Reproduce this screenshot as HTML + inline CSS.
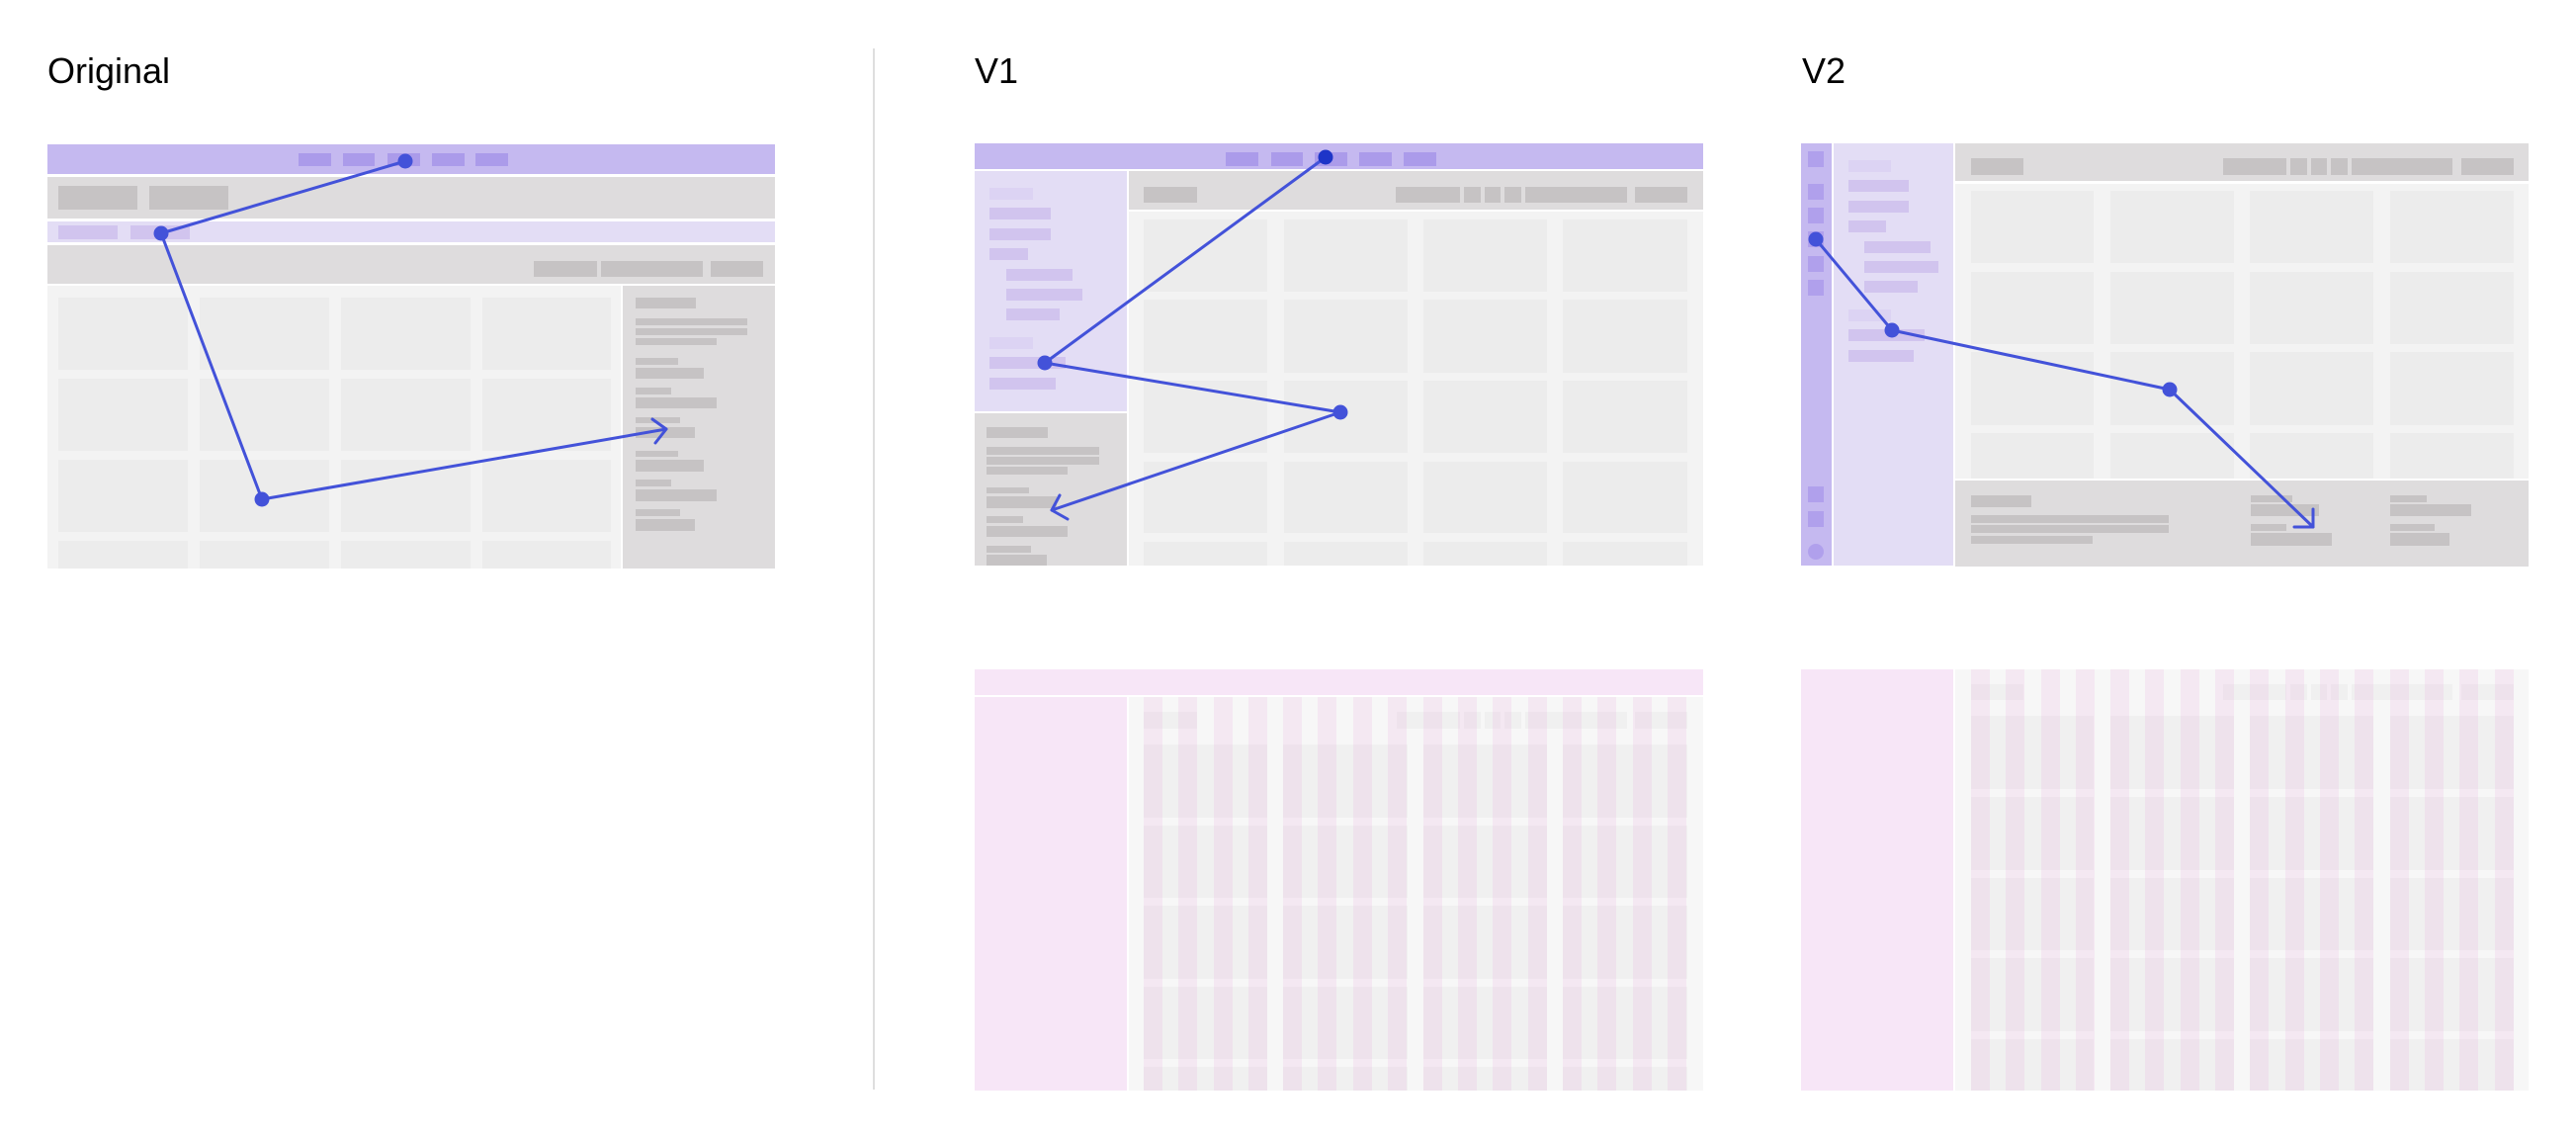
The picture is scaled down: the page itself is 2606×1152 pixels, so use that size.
<!DOCTYPE html>
<html><head><meta charset="utf-8"><style>
html,body{margin:0;padding:0;background:#fff;}
svg{display:block;}
text{font-family:"Liberation Sans",sans-serif;font-size:36px;fill:#000;}
</style></head><body>
<svg width="2606" height="1152" viewBox="0 0 2606 1152" xmlns="http://www.w3.org/2000/svg">
<rect width="2606" height="1152" fill="#fff"/>
<text x="48" y="84">Original</text>
<text x="986" y="84">V1</text>
<text x="1823" y="84">V2</text>
<rect x="883" y="49" width="2" height="1053" fill="#dedede"/>

<!-- ORIGINAL -->
<rect x="48" y="146" width="736" height="30" fill="#c5b9f0"/>
<g fill="#ab9bea"><rect x="302" y="155" width="33" height="13"/><rect x="347" y="155" width="32" height="13"/><rect x="392" y="155" width="33" height="13"/><rect x="437" y="155" width="33" height="13"/><rect x="481" y="155" width="33" height="13"/></g>
<rect x="48" y="179" width="736" height="42" fill="#dedcdd"/>
<g fill="#c6c3c4"><rect x="59" y="188" width="80" height="24"/><rect x="151" y="188" width="80" height="24"/></g>
<rect x="48" y="224" width="736" height="21" fill="#e3ddf5"/>
<g fill="#d1c4ee"><rect x="59" y="228" width="60" height="14"/><rect x="132" y="228" width="60" height="14"/></g>
<rect x="48" y="248" width="736" height="39" fill="#dedcdd"/>
<g fill="#c6c3c4"><rect x="540" y="264" width="64" height="16"/><rect x="608" y="264" width="103" height="16"/><rect x="719" y="264" width="53" height="16"/></g>
<rect x="48" y="289" width="580" height="286" fill="#f3f3f3"/>
<g fill="#ececec">
<rect x="59" y="301" width="131" height="73"/><rect x="202" y="301" width="131" height="73"/><rect x="345" y="301" width="131" height="73"/><rect x="488" y="301" width="130" height="73"/>
<rect x="59" y="383" width="131" height="73"/><rect x="202" y="383" width="131" height="73"/><rect x="345" y="383" width="131" height="73"/><rect x="488" y="383" width="130" height="73"/>
<rect x="59" y="465" width="131" height="73"/><rect x="202" y="465" width="131" height="73"/><rect x="345" y="465" width="131" height="73"/><rect x="488" y="465" width="130" height="73"/>
<rect x="59" y="547" width="131" height="28"/><rect x="202" y="547" width="131" height="28"/><rect x="345" y="547" width="131" height="28"/><rect x="488" y="547" width="130" height="28"/>
</g>
<rect x="630" y="289" width="154" height="286" fill="#dedcdd"/>
<g fill="#c6c3c4">
<rect x="643" y="301" width="61" height="11"/><rect x="643" y="322" width="113" height="7"/><rect x="643" y="332" width="113" height="7"/><rect x="643" y="342" width="82" height="7"/>
<rect x="643" y="362" width="43" height="7"/><rect x="643" y="372" width="69" height="11"/>
<rect x="643" y="392" width="36" height="7"/><rect x="643" y="402" width="82" height="11"/>
<rect x="643" y="422" width="45" height="6"/><rect x="643" y="432" width="60" height="11"/>
<rect x="643" y="456" width="43" height="6"/><rect x="643" y="465" width="69" height="12"/>
<rect x="643" y="485" width="36" height="7"/><rect x="643" y="495" width="82" height="12"/>
<rect x="643" y="515" width="45" height="7"/><rect x="643" y="525" width="60" height="12"/>
</g>
<g stroke="#4352d9" stroke-width="3" fill="none" stroke-linecap="round" stroke-linejoin="round">
<polyline points="410,163 163,236 265,505 674,434"/>
<polyline points="660,424 674,434 663,448"/>
</g>
<g fill="#4352d9"><circle cx="410" cy="163" r="7.5"/><circle cx="163" cy="236" r="7.5"/><circle cx="265" cy="505" r="7.5"/></g>

<!-- V1 TOP -->
<rect x="986" y="145" width="737" height="26" fill="#c5b9f0"/>
<g fill="#ab9bea"><rect x="1240" y="154" width="33" height="14"/><rect x="1286" y="154" width="32" height="14"/><rect x="1330" y="154" width="33" height="14"/><rect x="1375" y="154" width="33" height="14"/><rect x="1420" y="154" width="33" height="14"/></g>
<rect x="986" y="173" width="154" height="243" fill="#e3ddf5"/>
<g fill="#dcd3f3"><rect x="1001" y="190" width="44" height="12"/><rect x="1001" y="341" width="44" height="12"/></g>
<g fill="#d1c4ee"><rect x="1001" y="210" width="62" height="12"/><rect x="1001" y="231" width="62" height="12"/><rect x="1001" y="251" width="39" height="12"/><rect x="1018" y="272" width="67" height="12"/><rect x="1018" y="292" width="77" height="12"/><rect x="1018" y="312" width="54" height="12"/><rect x="1001" y="361" width="77" height="12"/><rect x="1001" y="382" width="67" height="12"/></g>
<rect x="986" y="418" width="154" height="154" fill="#dedcdd"/>
<g fill="#c6c3c4"><rect x="998" y="432" width="62" height="11"/><rect x="998" y="452" width="114" height="8"/><rect x="998" y="462" width="114" height="8"/><rect x="998" y="472" width="82" height="8"/><rect x="998" y="493" width="43" height="6"/><rect x="998" y="502" width="71" height="12"/><rect x="998" y="522" width="37" height="7"/><rect x="998" y="532" width="82" height="11"/><rect x="998" y="552" width="45" height="7"/><rect x="998" y="561" width="61" height="11"/></g>
<rect x="1142" y="173" width="581" height="39" fill="#dedcdd"/>
<g fill="#c6c3c4"><rect x="1157" y="189" width="54" height="16"/><rect x="1412" y="189" width="65" height="16"/><rect x="1481" y="189" width="17" height="16"/><rect x="1502" y="189" width="16" height="16"/><rect x="1522" y="189" width="17" height="16"/><rect x="1543" y="189" width="103" height="16"/><rect x="1654" y="189" width="53" height="16"/></g>
<rect x="1142" y="214" width="581" height="358" fill="#f3f3f3"/>
<g fill="#ececec">
<rect x="1157" y="222" width="125" height="73"/><rect x="1299" y="222" width="125" height="73"/><rect x="1440" y="222" width="125" height="73"/><rect x="1581" y="222" width="126" height="73"/>
<rect x="1157" y="303" width="125" height="74"/><rect x="1299" y="303" width="125" height="74"/><rect x="1440" y="303" width="125" height="74"/><rect x="1581" y="303" width="126" height="74"/>
<rect x="1157" y="385" width="125" height="73"/><rect x="1299" y="385" width="125" height="73"/><rect x="1440" y="385" width="125" height="73"/><rect x="1581" y="385" width="126" height="73"/>
<rect x="1157" y="467" width="125" height="72"/><rect x="1299" y="467" width="125" height="72"/><rect x="1440" y="467" width="125" height="72"/><rect x="1581" y="467" width="126" height="72"/>
<rect x="1157" y="548" width="125" height="24"/><rect x="1299" y="548" width="125" height="24"/><rect x="1440" y="548" width="125" height="24"/><rect x="1581" y="548" width="126" height="24"/>
</g>
<g stroke="#4352d9" stroke-width="3" fill="none" stroke-linecap="round" stroke-linejoin="round">
<polyline points="1341,159 1057,367 1356,417 1064,516"/>
<polyline points="1072,501 1064,516 1080,525"/>
</g>
<circle cx="1341" cy="159" r="7.5" fill="#1e35c8"/>
<g fill="#4352d9"><circle cx="1057" cy="367" r="7.5"/><circle cx="1356" cy="417" r="7.5"/></g>

<!-- V2 TOP -->
<rect x="1822" y="145" width="31" height="427" fill="#c5b9f0"/>
<g fill="#b0a0ec"><rect x="1829" y="153" width="16" height="16"/><rect x="1829" y="186" width="16" height="16"/><rect x="1829" y="210" width="16" height="16"/><rect x="1829" y="234" width="16" height="16"/><rect x="1829" y="259" width="16" height="16"/><rect x="1829" y="283" width="16" height="16"/><rect x="1829" y="492" width="16" height="16"/><rect x="1829" y="517" width="16" height="16"/><circle cx="1837" cy="558" r="8"/></g>
<rect x="1855" y="145" width="121" height="427" fill="#e3ddf5"/>
<g fill="#dcd3f3"><rect x="1870" y="162" width="43" height="12"/><rect x="1870" y="313" width="43" height="12"/></g>
<g fill="#d1c4ee"><rect x="1870" y="182" width="61" height="12"/><rect x="1870" y="203" width="61" height="12"/><rect x="1870" y="223" width="38" height="12"/><rect x="1886" y="244" width="67" height="12"/><rect x="1886" y="264" width="75" height="12"/><rect x="1886" y="284" width="54" height="12"/><rect x="1870" y="333" width="77" height="12"/><rect x="1870" y="354" width="66" height="12"/></g>
<rect x="1978" y="145" width="580" height="38" fill="#dedcdd"/>
<g fill="#c6c3c4"><rect x="1994" y="160" width="53" height="17"/><rect x="2249" y="160" width="64" height="17"/><rect x="2317" y="160" width="17" height="17"/><rect x="2338" y="160" width="16" height="17"/><rect x="2358" y="160" width="17" height="17"/><rect x="2379" y="160" width="102" height="17"/><rect x="2490" y="160" width="53" height="17"/></g>
<rect x="1978" y="186" width="580" height="298" fill="#f3f3f3"/>
<g fill="#ececec">
<rect x="1994" y="193" width="124" height="73"/><rect x="2135" y="193" width="125" height="73"/><rect x="2276" y="193" width="125" height="73"/><rect x="2418" y="193" width="125" height="73"/>
<rect x="1994" y="275" width="124" height="73"/><rect x="2135" y="275" width="125" height="73"/><rect x="2276" y="275" width="125" height="73"/><rect x="2418" y="275" width="125" height="73"/>
<rect x="1994" y="356" width="124" height="74"/><rect x="2135" y="356" width="125" height="74"/><rect x="2276" y="356" width="125" height="74"/><rect x="2418" y="356" width="125" height="74"/>
<rect x="1994" y="438" width="124" height="46"/><rect x="2135" y="438" width="125" height="46"/><rect x="2276" y="438" width="125" height="46"/><rect x="2418" y="438" width="125" height="46"/>
</g>
<rect x="1978" y="486" width="580" height="87" fill="#dedcdd"/>
<g fill="#c6c3c4"><rect x="1994" y="501" width="61" height="12"/><rect x="1994" y="521" width="200" height="8"/><rect x="1994" y="531" width="200" height="8"/><rect x="1994" y="542" width="123" height="8"/>
<rect x="2277" y="501" width="42" height="7"/><rect x="2277" y="510" width="69" height="12"/><rect x="2277" y="530" width="36" height="7"/><rect x="2277" y="539" width="82" height="13"/>
<rect x="2418" y="501" width="37" height="7"/><rect x="2418" y="510" width="82" height="12"/><rect x="2418" y="530" width="45" height="7"/><rect x="2418" y="539" width="60" height="13"/></g>
<g stroke="#4352d9" stroke-width="3" fill="none" stroke-linecap="round" stroke-linejoin="round">
<polyline points="1837,242 1914,334 2195,394 2340,533"/>
<polyline points="2340,515 2340,533 2321,533"/>
</g>
<g fill="#4352d9"><circle cx="1837" cy="242" r="7.5"/><circle cx="1914" cy="334" r="7.5"/><circle cx="2195" cy="394" r="7.5"/></g>

<!-- V1 BOTTOM -->
<rect x="986" y="677" width="737" height="26" fill="#f7e6f7"/>
<rect x="986" y="705" width="154" height="398" fill="#f7e6f7"/>
<rect x="1142" y="705" width="581" height="398" fill="#f7f7f7"/>
<g fill="#f0f0f0">
<rect x="1157" y="720" width="54" height="17"/><rect x="1413" y="720" width="64" height="17"/><rect x="1481" y="720" width="17" height="17"/><rect x="1502" y="720" width="16" height="17"/><rect x="1522" y="720" width="17" height="17"/><rect x="1543" y="720" width="103" height="17"/><rect x="1654" y="720" width="53" height="17"/>
<rect x="1157" y="753" width="125" height="74"/><rect x="1298" y="753" width="126" height="74"/><rect x="1440" y="753" width="125" height="74"/><rect x="1581" y="753" width="126" height="74"/>
<rect x="1157" y="835" width="125" height="73"/><rect x="1298" y="835" width="126" height="73"/><rect x="1440" y="835" width="125" height="73"/><rect x="1581" y="835" width="126" height="73"/>
<rect x="1157" y="916" width="125" height="74"/><rect x="1298" y="916" width="126" height="74"/><rect x="1440" y="916" width="125" height="74"/><rect x="1581" y="916" width="126" height="74"/>
<rect x="1157" y="998" width="125" height="73"/><rect x="1298" y="998" width="126" height="73"/><rect x="1440" y="998" width="125" height="73"/><rect x="1581" y="998" width="126" height="73"/>
<rect x="1157" y="1079" width="125" height="24"/><rect x="1298" y="1079" width="126" height="24"/><rect x="1440" y="1079" width="125" height="24"/><rect x="1581" y="1079" width="126" height="24"/>
</g>
<g fill="#e178cd" fill-opacity="0.11">
<rect x="1157" y="705" width="19" height="398"/><rect x="1192" y="705" width="19" height="398"/><rect x="1228" y="705" width="19" height="398"/><rect x="1263" y="705" width="19" height="398"/><rect x="1298" y="705" width="19" height="398"/><rect x="1333" y="705" width="19" height="398"/><rect x="1369" y="705" width="19" height="398"/><rect x="1404" y="705" width="19" height="398"/><rect x="1440" y="705" width="19" height="398"/><rect x="1475" y="705" width="19" height="398"/><rect x="1510" y="705" width="19" height="398"/><rect x="1546" y="705" width="19" height="398"/><rect x="1581" y="705" width="19" height="398"/><rect x="1616" y="705" width="19" height="398"/><rect x="1652" y="705" width="19" height="398"/><rect x="1687" y="705" width="19" height="398"/>
</g>

<!-- V2 BOTTOM -->
<rect x="1822" y="677" width="154" height="426" fill="#f7e6f7"/>
<rect x="1978" y="677" width="580" height="426" fill="#f7f7f7"/>
<g fill="#f0f0f0">
<rect x="1994" y="692" width="53" height="16"/><rect x="2249" y="692" width="64" height="16"/><rect x="2317" y="692" width="17" height="16"/><rect x="2338" y="692" width="16" height="16"/><rect x="2358" y="692" width="17" height="16"/><rect x="2379" y="692" width="102" height="16"/><rect x="2490" y="692" width="53" height="16"/>
<rect x="1994" y="724" width="124" height="74"/><rect x="2135" y="724" width="125" height="74"/><rect x="2276" y="724" width="125" height="74"/><rect x="2418" y="724" width="125" height="74"/>
<rect x="1994" y="806" width="124" height="74"/><rect x="2135" y="806" width="125" height="74"/><rect x="2276" y="806" width="125" height="74"/><rect x="2418" y="806" width="125" height="74"/>
<rect x="1994" y="888" width="124" height="73"/><rect x="2135" y="888" width="125" height="73"/><rect x="2276" y="888" width="125" height="73"/><rect x="2418" y="888" width="125" height="73"/>
<rect x="1994" y="969" width="124" height="74"/><rect x="2135" y="969" width="125" height="74"/><rect x="2276" y="969" width="125" height="74"/><rect x="2418" y="969" width="125" height="74"/>
<rect x="1994" y="1051" width="124" height="52"/><rect x="2135" y="1051" width="125" height="52"/><rect x="2276" y="1051" width="125" height="52"/><rect x="2418" y="1051" width="125" height="52"/>
</g>
<g fill="#e178cd" fill-opacity="0.11">
<rect x="1994" y="677" width="19" height="426"/><rect x="2029" y="677" width="19" height="426"/><rect x="2065" y="677" width="19" height="426"/><rect x="2100" y="677" width="19" height="426"/><rect x="2135" y="677" width="19" height="426"/><rect x="2170" y="677" width="19" height="426"/><rect x="2206" y="677" width="19" height="426"/><rect x="2241" y="677" width="19" height="426"/><rect x="2276" y="677" width="19" height="426"/><rect x="2312" y="677" width="19" height="426"/><rect x="2347" y="677" width="19" height="426"/><rect x="2382" y="677" width="19" height="426"/><rect x="2418" y="677" width="19" height="426"/><rect x="2453" y="677" width="19" height="426"/><rect x="2488" y="677" width="19" height="426"/><rect x="2524" y="677" width="19" height="426"/>
</g>
</svg>
</body></html>
